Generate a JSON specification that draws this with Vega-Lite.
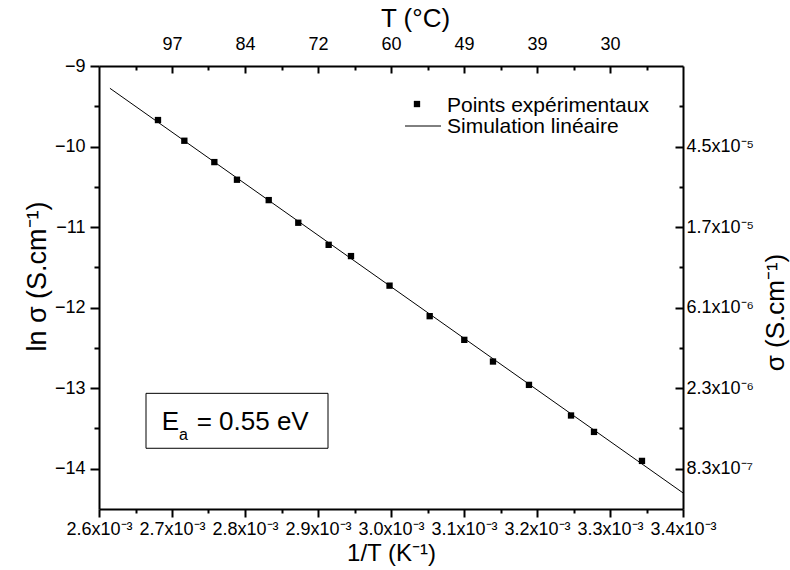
{
  "$schema": "https://vega.github.io/schema/vega-lite/v6.json",
  "width": 584,
  "height": 443,
  "autosize": "none",
  "padding": {"left": 99, "top": 66, "right": 107, "bottom": 61},
  "background": "white",
  "config": {
    "view": {"stroke": null},
    "font": "Liberation Sans",
    "axis": {
      "grid": false,
      "domainColor": "black",
      "tickColor": "black",
      "labelColor": "black",
      "titleColor": "black",
      "labelFont": "Liberation Sans",
      "titleFont": "Liberation Sans",
      "labelFontSize": 18,
      "titleFontSize": 26,
      "titleFontWeight": "normal",
      "domainWidth": 2,
      "tickWidth": 2,
      "labelOverlap": false,
      "labelFlush": false
    }
  },
  "datasets": {
    "points": [
      {"invT": 0.0026808, "lnsigma": -9.671},
      {"invT": 0.0027169, "lnsigma": -9.928},
      {"invT": 0.0027580, "lnsigma": -10.193},
      {"invT": 0.0027890, "lnsigma": -10.412},
      {"invT": 0.0028325, "lnsigma": -10.665},
      {"invT": 0.0028730, "lnsigma": -10.946},
      {"invT": 0.0029146, "lnsigma": -11.220},
      {"invT": 0.0029452, "lnsigma": -11.360},
      {"invT": 0.0029980, "lnsigma": -11.727},
      {"invT": 0.0030530, "lnsigma": -12.106},
      {"invT": 0.0031004, "lnsigma": -12.400},
      {"invT": 0.0031397, "lnsigma": -12.669},
      {"invT": 0.0031890, "lnsigma": -12.959},
      {"invT": 0.0032466, "lnsigma": -13.339},
      {"invT": 0.0032781, "lnsigma": -13.543},
      {"invT": 0.0033438, "lnsigma": -13.903}
    ],
    "fit": [
      {"invT": 0.002615, "lnsigma": -9.277},
      {"invT": 0.0034, "lnsigma": -14.30}
    ],
    "box": [
      {"x": 0.0026644, "x2": 0.0029137, "y": -13.064, "y2": -13.746}
    ],
    "ea_big": [
      {"x": 0.0026859, "y": -13.522, "t": "E"},
      {"x": 0.0027338, "y": -13.522, "t": "= 0.55 eV"}
    ],
    "ea_sub": [
      {"x": 0.0027096, "y": -13.646, "t": "a"}
    ],
    "legend_text": [
      {"x": 0.0030767, "y": -9.565, "t": "Points expérimentaux"},
      {"x": 0.0030767, "y": -9.832, "t": "Simulation linéaire"}
    ],
    "legend_square": [
      {"x": 0.0030356, "y": -9.472}
    ],
    "legend_line": [
      {"x": 0.0030192, "x2": 0.0030685, "y": -9.745}
    ]
  },
  "layer": [
    {
      "data": {"name": "points"},
      "mark": {"type": "square", "size": 40, "color": "black", "filled": true, "opacity": 1},
      "encoding": {
        "x": {
          "field": "invT", "type": "quantitative",
          "scale": {"domain": [0.0026, 0.0034], "nice": false, "zero": false},
          "axis": {
            "orient": "bottom",
            "values": [0.0026, 0.0027, 0.0028, 0.0029, 0.0030, 0.0031, 0.0032, 0.0033, 0.0034],
            "labelExpr": "format(datum.value*1000, '.1f') + 'x10⁻³'",
            "tickSize": 8,
            "labelPadding": 3,
            "title": "1/T (K⁻¹)",
            "titleFontSize": 24,
            "titlePadding": 3
          }
        },
        "y": {
          "field": "lnsigma", "type": "quantitative",
          "scale": {"domain": [-14.5, -9], "nice": false, "zero": false},
          "axis": {
            "orient": "left",
            "values": [-9, -10, -11, -12, -13, -14],
            "format": "d",
            "tickSize": 9,
            "labelPadding": 5,
            "title": "ln σ (S.cm⁻¹)",
            "titleFontSize": 27,
            "titleAngle": 270,
            "titleX": -62,
            "titleY": 210,
            "titleAlign": "center",
            "titleBaseline": "middle"
          }
        }
      }
    },
    {
      "data": {"name": "fit"},
      "mark": {"type": "line", "color": "black", "strokeWidth": 1},
      "encoding": {
        "x": {
          "field": "invT", "type": "quantitative",
          "scale": {"domain": [0.0026, 0.0034], "nice": false, "zero": false},
          "axis": {
            "orient": "top",
            "values": [0.0027, 0.0028, 0.0029, 0.0030, 0.0031, 0.0032, 0.0033],
            "labelExpr": "format(1/datum.value - 273.15, '.0f')",
            "tickSize": -7,
            "labelPadding": 20,
            "title": "T (°C)",
            "titleX": 316,
            "titleY": -48,
            "titleAlign": "center",
            "titleBaseline": "middle"
          }
        },
        "y": {
          "field": "lnsigma", "type": "quantitative",
          "scale": {"domain": [-14.5, -9], "nice": false, "zero": false},
          "axis": {
            "orient": "right",
            "values": [-10, -11, -12, -13, -14],
            "labelExpr": "datum.value == -10 ? '4.5x10⁻⁵' : datum.value == -11 ? '1.7x10⁻⁵' : datum.value == -12 ? '6.1x10⁻⁶' : datum.value == -13 ? '2.3x10⁻⁶' : '8.3x10⁻⁷'",
            "tickSize": -8,
            "labelPadding": 11,
            "title": "σ (S.cm⁻¹)",
            "titleAngle": 270,
            "titleX": 92,
            "titleY": 246,
            "titleAlign": "center",
            "titleBaseline": "middle"
          }
        }
      }
    },
    {
      "data": {"name": "fit"},
      "mark": {"type": "point", "opacity": 0},
      "encoding": {
        "x": {
          "field": "invT", "type": "quantitative",
          "scale": {"domain": [0.0026, 0.0034], "nice": false, "zero": false},
          "axis": {
            "orient": "bottom",
            "values": [0.00265, 0.00275, 0.00285, 0.00295, 0.00305, 0.00315, 0.00325, 0.00335],
            "labels": false, "domain": false, "tickSize": 4, "title": null
          }
        },
        "y": {
          "field": "lnsigma", "type": "quantitative",
          "scale": {"domain": [-14.5, -9], "nice": false, "zero": false},
          "axis": {
            "orient": "left",
            "values": [-9.5, -10.5, -11.5, -12.5, -13.5],
            "labels": false, "domain": false, "tickSize": 5, "title": null
          }
        }
      }
    },
    {
      "data": {"name": "fit"},
      "mark": {"type": "point", "opacity": 0},
      "encoding": {
        "x": {
          "field": "invT", "type": "quantitative",
          "scale": {"domain": [0.0026, 0.0034], "nice": false, "zero": false},
          "axis": {
            "orient": "top",
            "values": [0.00265, 0.00275, 0.00285, 0.00295, 0.00305, 0.00315, 0.00325, 0.00335],
            "labels": false, "domain": false, "tickSize": -4, "title": null
          }
        },
        "y": {
          "field": "lnsigma", "type": "quantitative",
          "scale": {"domain": [-14.5, -9], "nice": false, "zero": false},
          "axis": {
            "orient": "right",
            "values": [-9.5, -10.5, -11.5, -12.5, -13.5],
            "labels": false, "domain": false, "tickSize": -4, "title": null
          }
        }
      }
    },
    {
      "data": {"name": "box"},
      "mark": {"type": "rect", "fill": null, "stroke": "black", "strokeWidth": 1},
      "encoding": {
        "x": {"field": "x", "type": "quantitative", "axis": null},
        "x2": {"field": "x2"},
        "y": {"field": "y", "type": "quantitative", "axis": null},
        "y2": {"field": "y2"}
      }
    },
    {
      "data": {"name": "ea_big"},
      "mark": {"type": "text", "fontSize": 26, "align": "left", "baseline": "alphabetic", "color": "black", "font": "Liberation Sans"},
      "encoding": {
        "x": {"field": "x", "type": "quantitative", "axis": null},
        "y": {"field": "y", "type": "quantitative", "axis": null},
        "text": {"field": "t"}
      }
    },
    {
      "data": {"name": "ea_sub"},
      "mark": {"type": "text", "fontSize": 16, "align": "left", "baseline": "alphabetic", "color": "black", "font": "Liberation Sans"},
      "encoding": {
        "x": {"field": "x", "type": "quantitative", "axis": null},
        "y": {"field": "y", "type": "quantitative", "axis": null},
        "text": {"field": "t"}
      }
    },
    {
      "data": {"name": "legend_text"},
      "mark": {"type": "text", "fontSize": 21, "align": "left", "baseline": "alphabetic", "color": "black", "font": "Liberation Sans"},
      "encoding": {
        "x": {"field": "x", "type": "quantitative", "axis": null},
        "y": {"field": "y", "type": "quantitative", "axis": null},
        "text": {"field": "t"}
      }
    },
    {
      "data": {"name": "legend_square"},
      "mark": {"type": "square", "size": 40, "color": "black", "filled": true, "opacity": 1},
      "encoding": {
        "x": {"field": "x", "type": "quantitative", "axis": null},
        "y": {"field": "y", "type": "quantitative", "axis": null}
      }
    },
    {
      "data": {"name": "legend_line"},
      "mark": {"type": "rule", "color": "black", "strokeWidth": 1},
      "encoding": {
        "x": {"field": "x", "type": "quantitative", "axis": null},
        "x2": {"field": "x2"},
        "y": {"field": "y", "type": "quantitative", "axis": null}
      }
    }
  ],
  "resolve": {"axis": {"x": "independent", "y": "independent"}}
}
